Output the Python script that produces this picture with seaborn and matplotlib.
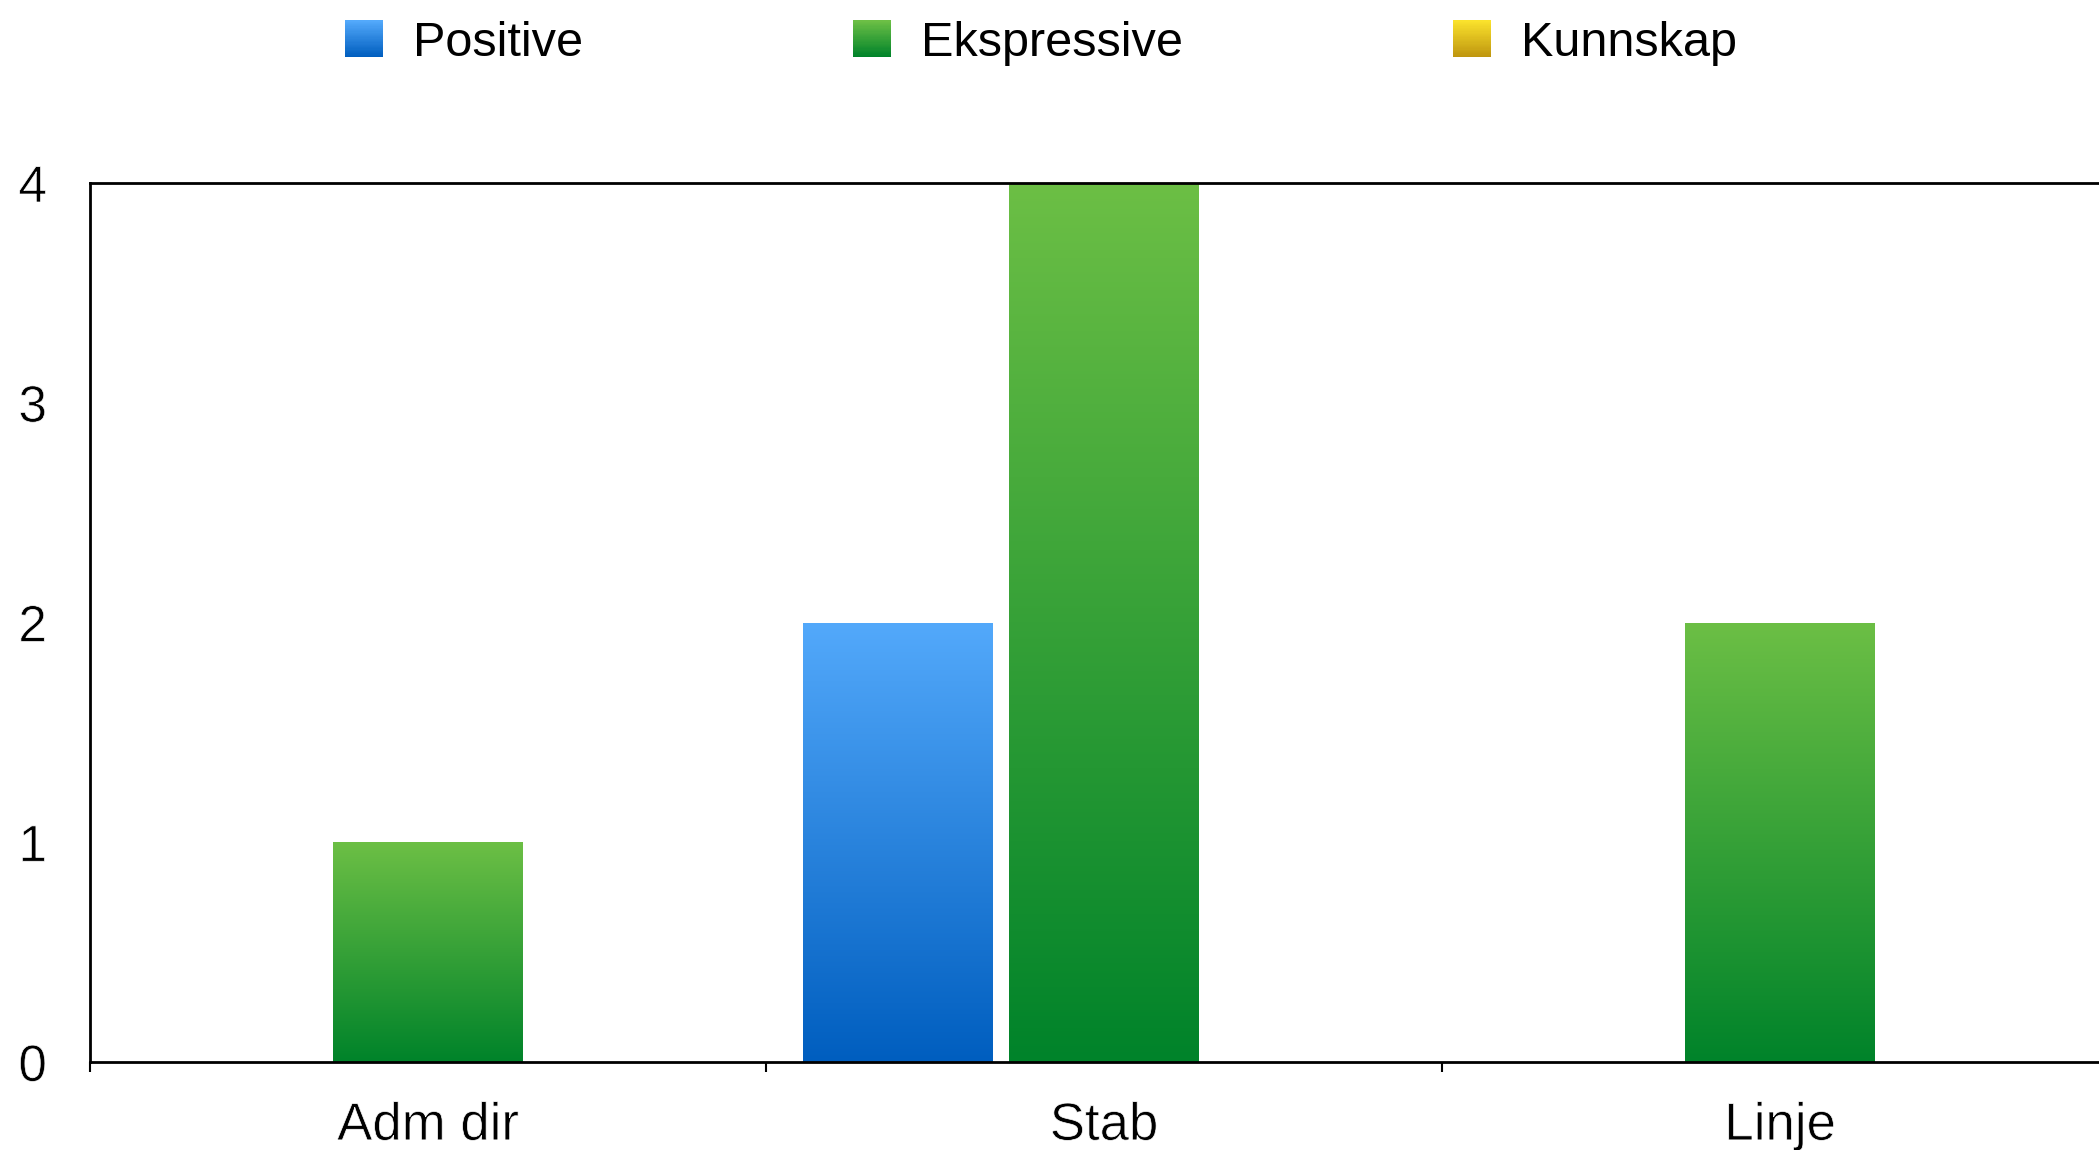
import numpy as np
import pandas as pd
import matplotlib
matplotlib.use("Agg")
import matplotlib.pyplot as plt
import matplotlib.patheffects as pe
from matplotlib.colors import to_rgb
from matplotlib.patches import Rectangle
from matplotlib.legend_handler import HandlerBase
from matplotlib.ticker import FixedLocator
import seaborn as sns

# ---- data ----
categories = ["Adm dir", "Stab", "Linje"]
series = ["Positive", "Ekspressive", "Kunnskap"]
positive = [0, 2, 0]
ekspressive = [1, 4, 2]
kunnskap = [0, 0, 0]
y_ticks = [0, 1, 2, 3, 4]

# gradient colours per series: (top, bottom)
gradients = {
    "Positive": ("#53a9fb", "#005ebf"),
    "Ekspressive": ("#6cbf45", "#00832a"),
    "Kunnskap": ("#fae22c", "#bf960f"),
}

df = pd.DataFrame({
    "Gruppe": np.repeat(categories, len(series)),
    "Serie": series * len(categories),
    "Antall": [v for trio in zip(positive, ekspressive, kunnskap) for v in trio],
})

sns.set_theme(style="white")
plt.rcParams["font.family"] = ["Liberation Sans", "DejaVu Sans"]

W, H = 2099, 1150
fig = plt.figure(figsize=(W / 100, H / 100), dpi=100)
ax_left, ax_bottom, ax_top = 90 / W, 1 - 1062 / H, 1 - 183 / H
ax = fig.add_axes([ax_left, ax_bottom, 1 - ax_left, ax_top - ax_bottom])

palette = {k: v[1] for k, v in gradients.items()}
sns.barplot(data=df, x="Gruppe", y="Antall", hue="Serie", order=categories,
            hue_order=series, palette=palette, width=0.915, gap=0.08,
            legend=False, ax=ax, linewidth=0, saturation=1)


def vertical_gradient(top, bottom, n=256):
    t = np.linspace(0, 1, n)[:, None]
    top, bottom = np.array(to_rgb(top)), np.array(to_rgb(bottom))
    return (top * (1 - t) + bottom * t)[:, None, :]


# replace the flat bar fill with a top-to-bottom gradient
for container, name in zip(ax.containers, series):
    top_c, bot_c = gradients[name]
    img = vertical_gradient(top_c, bot_c)
    for patch in container:
        h = patch.get_height()
        if h <= 0:
            patch.set_visible(False)
            continue
        x0, w = patch.get_x(), patch.get_width()
        im = ax.imshow(img, extent=(x0, x0 + w, 0, h), origin="upper",
                       aspect="auto", zorder=patch.get_zorder(),
                       interpolation="bilinear")
        im.set_clip_path(patch)
        patch.set_facecolor("none")

ax.set_xlim(-0.5, -0.5 + (W - 90) / 676)
ax.set_ylim(0, 4)
ax.set_yticks(y_ticks)
ax.set_xlabel("")
ax.set_ylabel("")

for side in ["top", "left", "bottom"]:
    ax.spines[side].set_visible(True)
    ax.spines[side].set_color("black")
    ax.spines[side].set_linewidth(2)
ax.spines["right"].set_visible(False)

ax.xaxis.set_minor_locator(FixedLocator([-0.5, 0.5, 1.5, 2.5]))
ax.tick_params(axis="x", which="major", length=0, pad=28, labelsize=38,
               colors="black")
ax.tick_params(axis="x", which="minor", length=7, width=1.5, direction="out",
               color="black", bottom=True)
ax.tick_params(axis="y", length=0, pad=31, labelsize=37, colors="black")
# slightly lighter strokes for the tick labels
thin = [pe.Stroke(linewidth=0.5, foreground="white")]
for lab in ax.get_xticklabels() + ax.get_yticklabels():
    lab.set_color("black")
    lab.set_path_effects(thin)


class GradientSwatch(HandlerBase):
    def __init__(self, top, bottom, n=30):
        super().__init__()
        self.top, self.bottom, self.n = to_rgb(top), to_rgb(bottom), n

    def create_artists(self, legend, orig_handle, xdescent, ydescent,
                       width, height, fontsize, trans):
        arts = []
        step = height / self.n
        for i in range(self.n):
            f = i / (self.n - 1)
            col = tuple(b * (1 - f) + t * f for t, b in zip(self.top, self.bottom))
            arts.append(Rectangle((-xdescent, -ydescent + i * step), width,
                                  step * 1.05, facecolor=col, edgecolor="none",
                                  transform=trans))
        return arts


handles = [Rectangle((0, 0), 1, 1) for _ in series]
handler_map = {h: GradientSwatch(*gradients[s]) for h, s in zip(handles, series)}
leg = fig.legend(handles, series, handler_map=handler_map, ncol=3, frameon=False,
                 loc="center left", bbox_to_anchor=(345 / W, 1 - 43 / H),
                 borderpad=0, borderaxespad=0, fontsize=35, handlelength=0.78,
                 handleheight=0.78, handletextpad=0.62, columnspacing=5.55)
for t in leg.get_texts():
    t.set_color("black")

fig.savefig("out.png", dpi=100)
